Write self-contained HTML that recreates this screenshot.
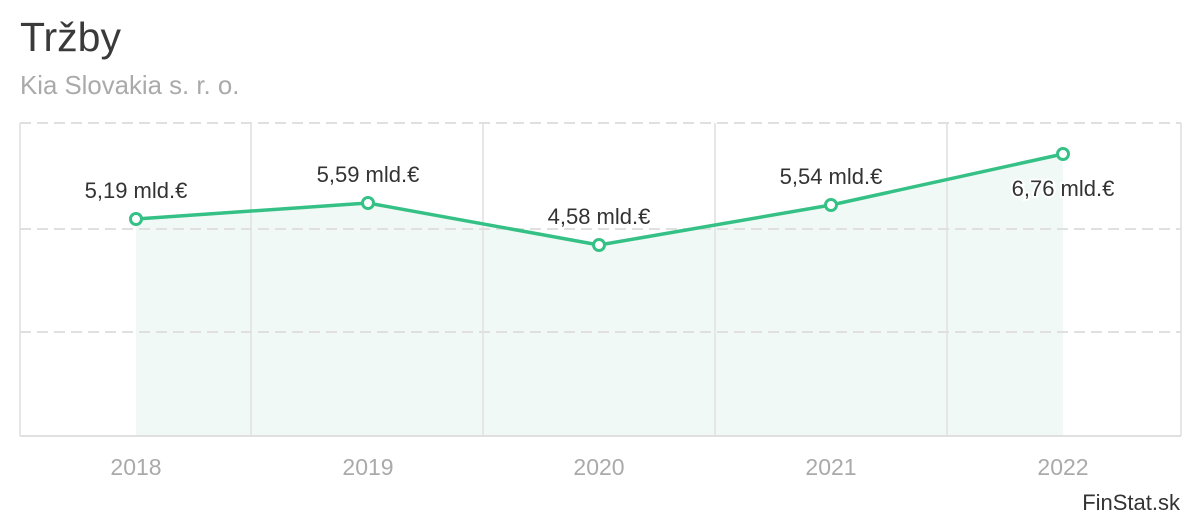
<!DOCTYPE html>
<html><head><meta charset="utf-8"><style>
html,body{margin:0;padding:0;background:#fff;}
body{width:1200px;height:520px;overflow:hidden;font-family:"Liberation Sans",Arial,sans-serif;}
</style></head><body>
<svg width="1200" height="520" xmlns="http://www.w3.org/2000/svg" font-family="Liberation Sans, Arial, sans-serif">
<text x="20" y="51" font-size="41" fill="#3a3a3a">Tržby</text>
<text x="20" y="94" font-size="25.8" fill="#aaa">Kia Slovakia s. r. o.</text>
<path d="M136,219 L368,203 L599,245 L831,205 L1063,154 L1063,436 L136,436 Z" fill="#f0f9f5"/>
<g stroke="#e6e6e6" stroke-width="2">
<line x1="20" y1="123" x2="20" y2="436"/>
<line x1="251" y1="123" x2="251" y2="436"/>
<line x1="483" y1="123" x2="483" y2="436"/>
<line x1="715" y1="123" x2="715" y2="436"/>
<line x1="947" y1="123" x2="947" y2="436"/>
<line x1="1181" y1="123" x2="1181" y2="436"/>
</g>
<g stroke="#e0e0e0" stroke-width="2" stroke-dasharray="11,6">
<line x1="20" y1="123" x2="1181" y2="123"/>
<line x1="20" y1="229" x2="1181" y2="229"/>
<line x1="20" y1="332" x2="1181" y2="332"/>
</g>
<line x1="20" y1="436" x2="1181" y2="436" stroke="#e0e0e0" stroke-width="2"/>
<polyline points="136,219 368,203 599,245 831,205 1063,154" fill="none" stroke="#35c186" stroke-width="3.5" stroke-linejoin="round"/>
<g fill="#fff" stroke="#35c186" stroke-width="3">
<circle cx="136" cy="219" r="5.5"/><circle cx="368" cy="203" r="5.5"/><circle cx="599" cy="245" r="5.5"/><circle cx="831" cy="205" r="5.5"/><circle cx="1063" cy="154" r="5.5"/>
</g>
<g font-size="22" fill="#333" text-anchor="middle" stroke="#fff" stroke-width="4" paint-order="stroke">
<text x="136" y="198">5,19 mld.€</text>
<text x="368" y="182">5,59 mld.€</text>
<text x="599" y="224">4,58 mld.€</text>
<text x="831" y="184">5,54 mld.€</text>
<text x="1063" y="196">6,76 mld.€</text>
</g>
<g font-size="23" fill="#aaa" text-anchor="middle">
<text x="136" y="475">2018</text><text x="368" y="475">2019</text><text x="599" y="475">2020</text><text x="831" y="475">2021</text><text x="1063" y="475">2022</text>
</g>
<text x="1180" y="510" font-size="22" fill="#333" text-anchor="end">FinStat.sk</text>
</svg>
</body></html>
